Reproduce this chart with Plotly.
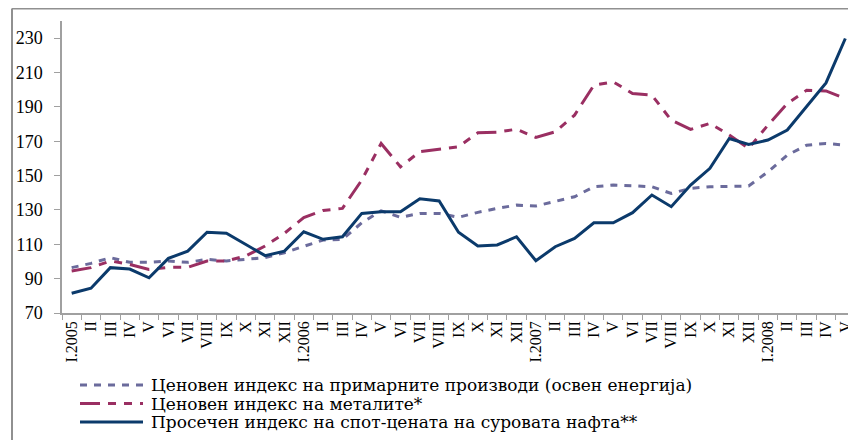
import plotly.graph_objects as go

months = ["I.2005", "II", "III", "IV", "V", "VI", "VII", "VIII", "IX", "X", "XI", "XII",
          "I.2006", "II", "III", "IV", "V", "VI", "VII", "VIII", "IX", "X", "XI", "XII",
          "I.2007", "II", "III", "IV", "V", "VI", "VII", "VIII", "IX", "X", "XI", "XII",
          "I.2008", "II", "III", "IV", "V"]

primary = [96.4, 98.9, 102.2, 99.5, 99.5, 100.3, 99.5, 101.2, 100.3, 101.2, 102.2, 105.1,
           109.0, 112.5, 112.9, 122.5, 129.5, 125.7, 128.0, 128.0, 125.7, 128.6, 130.9, 132.8,
           132.3, 134.8, 137.7, 143.5, 144.5, 144.1, 143.5, 139.6, 142.6, 143.5, 143.9, 143.9,
           152.2, 161.9, 167.7, 168.7, 167.7]

metals = [94.4, 96.4, 100.3, 98.3, 95.4, 96.6, 96.6, 100.3, 100.3, 103.2, 109.0, 116.4,
          125.5, 129.7, 130.9, 147.4, 168.7, 155.1, 163.9, 165.2, 166.8, 174.9, 175.3, 177.0,
          172.2, 175.5, 185.2, 202.6, 204.6, 197.8, 196.8, 182.3, 176.9, 180.4, 173.6, 165.8,
          179.4, 192.0, 199.7, 199.3, 194.9]

oil = [81.5, 84.4, 96.4, 95.6, 90.5, 101.8, 106.0, 117.0, 116.4, 110.0, 103.4, 106.0,
       117.3, 112.9, 114.4, 128.0, 128.9, 128.9, 136.5, 135.2, 117.0, 109.0, 109.6, 114.4,
       100.4, 108.6, 113.4, 122.5, 122.5, 128.4, 138.7, 131.9, 144.5, 154.2, 171.6, 168.1,
       170.7, 176.5, 190.6, 204.0, 229.8]

names = ["Ценовен индекс на примарните производи (освен енергија)",
         "Ценовен индекс на металите*",
         "Просечен индекс на спот-цената на суровата нафта**"]

y_ticks = [70, 90, 110, 130, 150, 170, 190, 210, 230]

colors = ["#6b6b9c", "#9a2f62", "#0b3a6b"]
dashes = ["7px,7px", "20px,8px,8px,8px,8px,8px", "solid"]

x = list(range(len(months)))

fig = go.Figure()
for vals, nm, c, d in zip([primary, metals, oil], names, colors, dashes):
    fig.add_trace(go.Scatter(x=x, y=vals, mode="lines", name=nm, showlegend=False,
                             line=dict(color=c, width=3, dash=d)))

serif = "Liberation Serif, Times New Roman, serif"

W, H = 848, 432
L, R, T, B = 54, 1, 13, 127
PW, PH = W - L - R, H - T - B


def px(page_x):
    return (page_x - 8 - L) / PW


def py(page_y):
    return (H - B - (page_y - 8)) / PH


fig.update_layout(
    width=W, height=H,
    margin=dict(l=L, r=R, t=T, b=B),
    paper_bgcolor="white", plot_bgcolor="white",
    font=dict(family=serif, color="black", size=16),
    showlegend=False,
    xaxis=dict(range=[-0.5, len(months) - 0.5], tickmode="array", tickvals=x, ticktext=months,
               tickangle=-90, ticks="", showgrid=False, zeroline=False,
               showline=True, linecolor="#a0a0a0", linewidth=1.5,
               tickfont=dict(family=serif, size=16, color="black"),
               minor=dict(ticks="outside", tick0=-0.5, dtick=1, ticklen=5,
                          tickcolor="#a0a0a0", showgrid=False)),
    yaxis=dict(range=[70, 240], tickmode="array", tickvals=y_ticks,
               ticks="outside", ticklen=6, tickcolor="#a0a0a0",
               showgrid=False, zeroline=False, showline=True, linecolor="#a0a0a0", linewidth=1.5,
               tickfont=dict(family=serif, size=18, color="black"), ticklabelstandoff=8),
)

# manual legend
leg_y = [385, 403.5, 422]
for ly, nm, c, d in zip(leg_y, names, colors, dashes):
    fig.add_shape(type="line", xref="paper", yref="paper", x0=px(80), x1=px(143),
                  y0=py(ly), y1=py(ly), line=dict(color=c, width=3, dash=d))
    fig.add_annotation(xref="paper", yref="paper", x=px(149), y=py(ly), text=nm,
                       showarrow=False, xanchor="left", yanchor="middle",
                       font=dict(family="DejaVu Serif, serif", size=17, color="black"))

# outer chart frame
fig.add_shape(type="line", xref="paper", yref="paper", x0=px(12), x1=px(12), y0=-0.5, y1=py(8.5),
              line=dict(color="#909090", width=2))
fig.add_shape(type="line", xref="paper", yref="paper", x0=px(12), x1=1.01, y0=py(8.5), y1=py(8.5),
              line=dict(color="#909090", width=2))

fig.write_html("out.html")
